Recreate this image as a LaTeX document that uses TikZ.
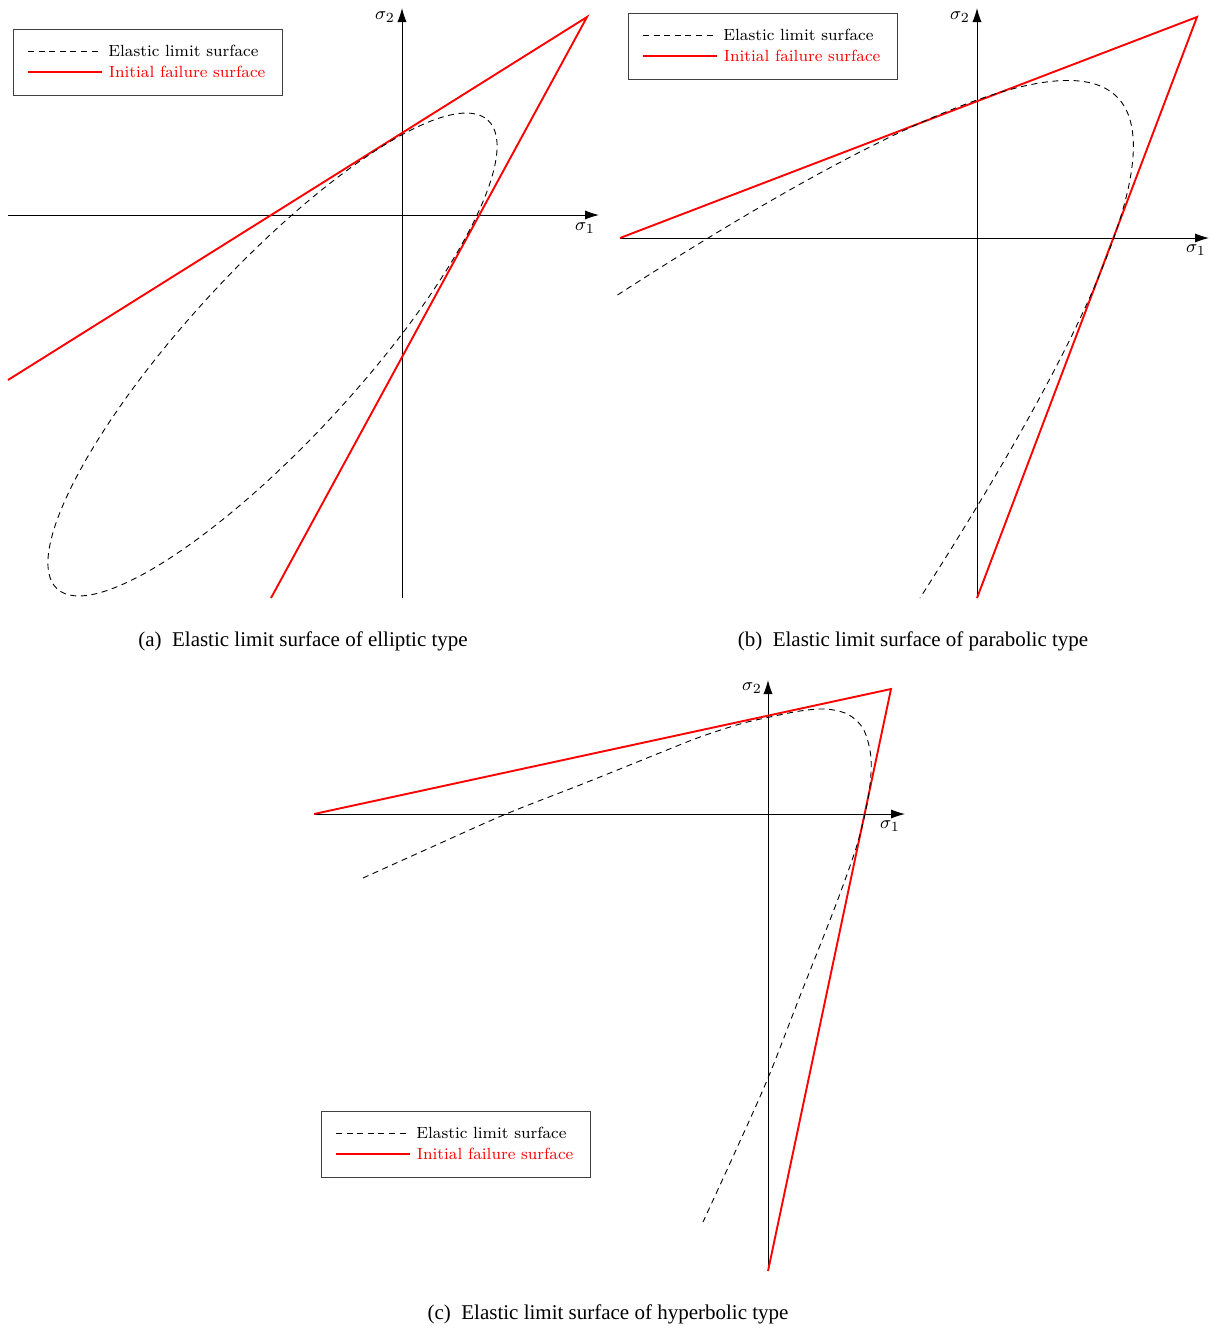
\documentclass[tikz,border=0pt]{standalone}
\usepackage{fontspec}
\newfontfamily\capfont{Liberation Serif}
\usetikzlibrary{arrows.meta}
\definecolor{failred}{RGB}{255,0,0}

\tikzset{
  sigaxis/.style={line width=0.5pt,-{Latex[length=7pt,width=4.6pt]}},
  failure/.style={failred,line width=0.95pt},
  elastic/.style={black,line width=0.45pt,dash pattern=on 3pt off 2.3pt},
  legbox/.style={draw=black!75,line width=0.5pt},
  legtext/.style={font=\fontsize{8.1}{10}\selectfont,inner sep=0pt,right=3pt},
  captext/.style={font=\capfont\fontsize{10.5}{12}\selectfont},
  siglabel/.style={font=\fontsize{9.5}{10}\selectfont,inner sep=1pt}
}

% legend box: #1,#2 = top left corner, #3 = prefix of the node names
\newcommand{\surfacelegend}[3]{%
  \begin{scope}[shift={(#1,#2)}]
    \draw[legbox] (0,0) rectangle (269,66);
    \draw[elastic] (15,22) -- (89,22) node[legtext] (#3el) {Elastic limit surface};
    \draw[failure] (15,43) -- (89,43) node[legtext,text=failred] (#3fl) {Initial failure surface};
  \end{scope}}

\begin{document}
\begin{tikzpicture}[x=0.5pt,y=-0.5pt]
\useasboundingbox (0,0) rectangle (1210,1329);

% (a) elliptic
\coordinate (Oa) at (402,215);
\coordinate (Xa) at (599,215);
\coordinate (Ya) at (402,8);
\draw[sigaxis] (8,215) -- (Xa);
\draw[sigaxis] (402,598) -- (Ya);
\node[siglabel] (s1a) at (585,228) {$\sigma_1$};
\node[siglabel] (s2a) at (385,17) {$\sigma_2$};
\draw[failure] (8,380) -- (587,17) -- (271,598);
\draw[elastic,rotate around={47.4:(272.5,354.5)}] (272.5,354.5) ellipse [x radius=318.3, y radius=86];
\surfacelegend{13}{29}{la}
\node[captext] (capa) at (303,641.5) {(a)\enspace Elastic limit surface of elliptic type};

% (b) parabolic
\coordinate (Ob) at (977,238);
\coordinate (Xb) at (1209,238);
\coordinate (Yb) at (977,8);
\draw[sigaxis] (620,238) -- (Xb);
\draw[sigaxis] (977,598) -- (Yb);
\node[siglabel] (s1b) at (1196,250) {$\sigma_1$};
\node[siglabel] (s2b) at (960,17) {$\sigma_2$};
\draw[failure] (620,238) -- (1197,17) -- (977,598);
\draw[elastic] (617.5,295) .. controls (1182.8,-70.3) and (1283.3,31) .. (920,598);
\surfacelegend{628}{13}{lb}
\node[captext] (capb) at (913,641.5) {(b)\enspace Elastic limit surface of parabolic type};

% (c) hyperbolic
\coordinate (Oc) at (768,814);
\coordinate (Xc) at (905,814);
\coordinate (Yc) at (768,680);
\draw[sigaxis] (314,814) -- (Xc);
\draw[sigaxis] (768,1271) -- (Yc);
\node[siglabel] (s1c) at (890,826) {$\sigma_1$};
\node[siglabel] (s2c) at (752,688) {$\sigma_2$};
\draw[failure] (314,814) -- (891,689) -- (768,1271);
\draw[elastic] plot[smooth,tension=0.55] coordinates {(363,878) (434,846) (506,814) (585,783)
  (662,752) (700,737) (740,724) (770,717) (800,711) (825,709) (845,713) (858,722) (866,735)
  (871,758) (870,785) (865,814) (857,845) (845,880) (830,920) (800,996) (768,1078) (736,1150) (703,1222)};
\surfacelegend{321}{1111}{lc}
\node[captext] (capc) at (608,1314.5) {(c)\enspace Elastic limit surface of hyperbolic type};
\end{tikzpicture}
\end{document}
